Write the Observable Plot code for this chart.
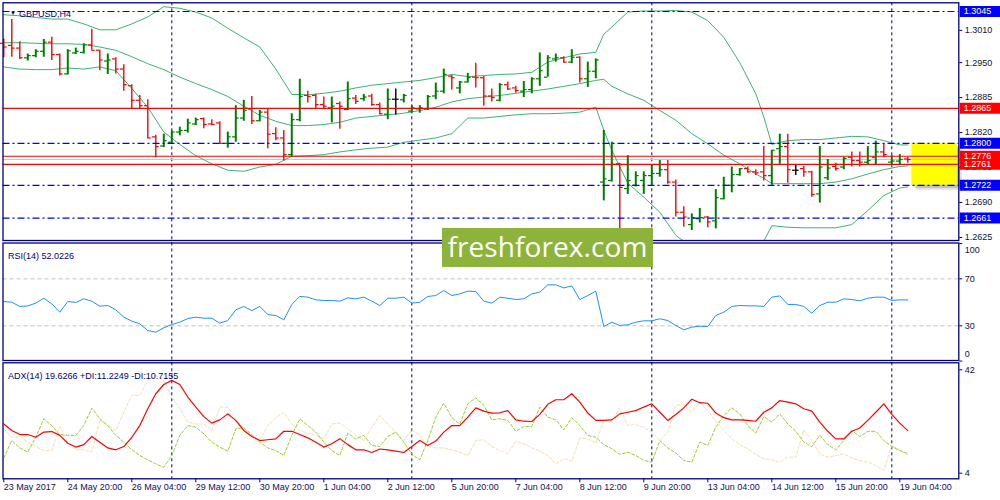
<!DOCTYPE html>
<html>
<head>
<meta charset="utf-8">
<script src="https://cdn.jsdelivr.net/npm/d3@7"></script>
<script src="https://cdn.jsdelivr.net/npm/@observablehq/plot@0.6"></script>
<style>
  html, body { margin: 0; padding: 0; background: #fff; }
  #chart { position: relative; width: 1000px; height: 500px; overflow: hidden; }
  #chart svg { position: absolute; left: 0; top: 0; }
  #wm {
    position: absolute; left: 442px; top: 228px; width: 211px; height: 39px;
    background: #8db33b; color: #fff; font: 28px "Open Sans", sans-serif;
    line-height: 37px; text-align: center; letter-spacing: 0.1px;
  }
</style>
</head>
<body>
<div id="chart"><div id="wm">freshforex.com</div></div>
<script>
// GBPUSD H4, bars 0..113 (23 May 2017 -> 19 Jun 2017)
const open = [
  1.2986,1.2982,1.2977,1.2959,1.2963,1.2971,1.2988,1.2965,1.2929,1.2968,
  1.2969,1.2983,1.2973,1.2953,1.2957,1.2938,1.2907,1.2880,1.2870,1.2812,
  1.2795,1.2802,1.2821,1.2824,1.2836,1.2846,1.2836,1.2838,1.2800,1.2812,
  1.2847,1.2864,1.2842,1.2858,1.2818,1.2810,1.2779,1.2844,1.2889,1.2889,
  1.2872,1.2866,1.2874,1.2863,1.2884,1.2883,1.2888,1.2872,1.2854,1.2882,
  1.2881,1.2860,1.2864,1.2864,1.2888,1.2897,1.2925,1.2903,1.2914,1.2923,
  1.2922,1.2888,1.2880,1.2909,1.2903,1.2897,1.2900,1.2920,1.2923,1.2957,
  1.2959,1.2951,1.2960,1.2920,1.2934,1.2728,1.2731,1.2762,1.2716,1.2722,
  1.2731,1.2740,1.2744,1.2751,1.2728,1.2672,1.2649,1.2660,1.2663,1.2656,
  1.2697,1.2722,1.2742,1.2753,1.2747,1.2747,1.2740,1.2790,1.2794,1.2750,
  1.2753,1.2747,1.2706,1.2736,1.2757,1.2756,1.2774,1.2768,1.2765,1.2774,
  1.2784,1.2765,1.2767,1.2771]
const high = [
  1.2994,1.3030,1.2989,1.2966,1.2974,1.2993,1.2997,1.2966,1.2974,1.2977,
  1.2985,1.3012,1.2973,1.2966,1.2959,1.2946,1.2909,1.2889,1.2881,1.2815,
  1.2817,1.2823,1.2830,1.2845,1.2847,1.2847,1.2844,1.2840,1.2821,1.2870,
  1.2880,1.2887,1.2861,1.2864,1.2829,1.2824,1.2855,1.2919,1.2897,1.2891,
  1.2886,1.2886,1.2877,1.2914,1.2889,1.2891,1.2891,1.2875,1.2901,1.2901,
  1.2891,1.2870,1.2870,1.2889,1.2912,1.2938,1.2926,1.2915,1.2930,1.2949,
  1.2924,1.2901,1.2911,1.2914,1.2906,1.2915,1.2922,1.2968,1.2963,1.2966,
  1.2961,1.2974,1.2961,1.2951,1.2957,1.2824,1.2802,1.2763,1.2777,1.2747,
  1.2747,1.2759,1.2768,1.2768,1.2732,1.2682,1.2669,1.2679,1.2664,1.2714,
  1.2737,1.2756,1.2753,1.2756,1.2751,1.2794,1.2787,1.2817,1.2817,1.2759,
  1.2757,1.2748,1.2794,1.2770,1.2763,1.2774,1.2784,1.2784,1.2794,1.2804,
  1.2799,1.2777,1.2779,1.2774]
const low = [
  1.2959,1.2960,1.2956,1.2953,1.2959,1.2960,1.2954,1.2925,1.2927,1.2965,
  1.2966,1.2973,1.2935,1.2928,1.2929,1.2897,1.2864,1.2864,1.2809,1.2773,
  1.2792,1.2800,1.2814,1.2819,1.2833,1.2827,1.2833,1.2799,1.2791,1.2802,
  1.2841,1.2835,1.2840,1.2790,1.2805,1.2767,1.2775,1.2840,1.2875,1.2864,
  1.2864,1.2838,1.2826,1.2861,1.2872,1.2878,1.2869,1.2853,1.2844,1.2852,
  1.2875,1.2856,1.2856,1.2861,1.2881,1.2892,1.2899,1.2892,1.2912,1.2903,
  1.2869,1.2877,1.2877,1.2898,1.2893,1.2885,1.2892,1.2906,1.2923,1.2951,
  1.2949,1.2948,1.2912,1.2904,1.2920,1.2693,1.2728,1.2638,1.2705,1.2719,
  1.2705,1.2720,1.2737,1.2724,1.2663,1.2644,1.2638,1.2652,1.2643,1.2641,
  1.2695,1.2708,1.2739,1.2744,1.2740,1.2730,1.2722,1.2761,1.2726,1.2740,
  1.2737,1.2700,1.2689,1.2731,1.2748,1.2751,1.2756,1.2756,1.2759,1.2759,
  1.2773,1.2759,1.2759,1.2763]
const close = [
  1.2979,1.2977,1.2959,1.2963,1.2971,1.2988,1.2965,1.2929,1.2972,1.2971,
  1.2983,1.2973,1.2955,1.2955,1.2938,1.2909,1.2880,1.2870,1.2810,1.2794,
  1.2805,1.2821,1.2824,1.2838,1.2844,1.2835,1.2835,1.2800,1.2812,1.2847,
  1.2861,1.2842,1.2858,1.2817,1.2810,1.2779,1.2844,1.2887,1.2887,1.2872,
  1.2869,1.2869,1.2869,1.2883,1.2878,1.2886,1.2872,1.2855,1.2882,1.2882,
  1.2889,1.2866,1.2866,1.2887,1.2897,1.2928,1.2922,1.2914,1.2922,1.2922,
  1.2888,1.2885,1.2909,1.2901,1.2898,1.2900,1.2920,1.2935,1.2959,1.2959,
  1.2951,1.2960,1.2920,1.2934,1.2955,1.2734,1.2761,1.2718,1.2731,1.2740,
  1.2740,1.2744,1.2751,1.2728,1.2672,1.2663,1.2662,1.2662,1.2654,1.2699,
  1.2722,1.2742,1.2753,1.2747,1.2745,1.2740,1.2787,1.2794,1.2751,1.2750,
  1.2747,1.2705,1.2756,1.2754,1.2753,1.2772,1.2768,1.2765,1.2768,1.2784,
  1.2779,1.2767,1.2770,1.2770]

const bbBars = [0,2,4,6,8,10,12,14,16,18,20,22,24,26,28,30,32,34,36,38,
  40,42,44,46,48,50,52,54,56,58,60,62,64,66,68,70,72,74,75,
  76,78,80,82,84,86,88,90,92,94,95,96,98,100,102,104,106,108,110,112,113]
const bbUpper = [1.3039,1.3037,1.3034,1.3031,1.3031,1.3022,1.3011,1.3011,1.3022,1.3035,
  1.3054,1.3051,1.3044,1.3033,1.3014,1.2996,1.2979,1.2938,1.2891,1.2890,
  1.2893,1.2897,1.2903,1.2908,1.2911,1.2914,1.2917,1.2922,1.2928,1.2924,
  1.2926,1.2928,1.2929,1.2932,1.2951,1.2959,1.2966,1.2969,1.3003,
  1.3016,1.3044,1.3046,1.3046,1.3047,1.3044,1.3028,1.2997,1.2950,1.2892,1.2849,
  1.2798,1.2805,1.2807,1.2807,1.2810,1.2813,1.2812,1.2805,1.2797,1.2797]
const bbMiddle = [1.2987,1.2987,1.2986,1.2985,1.2985,1.2984,1.2979,1.2973,1.2961,1.2948,
  1.2937,1.2923,1.2911,1.2900,1.2887,1.2869,1.2852,1.2841,1.2833,1.2833,
  1.2835,1.2839,1.2847,1.2850,1.2853,1.2856,1.2861,1.2867,1.2877,1.2883,
  1.2886,1.2889,1.2893,1.2897,1.2901,1.2906,1.2911,1.2917,1.2919,
  1.2906,1.2892,1.2880,1.2861,1.2843,1.2818,1.2799,1.2778,1.2762,1.2743,1.2735,
  1.2725,1.2725,1.2725,1.2725,1.2728,1.2734,1.2743,1.2751,1.2757,1.2758]
const bbLower = [1.2942,1.2938,1.2937,1.2937,1.2940,1.2938,1.2942,1.2935,1.2902,1.2867,
  1.2821,1.2798,1.2777,1.2762,1.2750,1.2748,1.2756,1.2761,1.2776,1.2777,
  1.2779,1.2784,1.2788,1.2791,1.2793,1.2802,1.2806,1.2810,1.2818,1.2847,
  1.2847,1.2850,1.2853,1.2855,1.2855,1.2856,1.2858,1.2867,1.2824,
  1.2787,1.2726,1.2700,1.2672,1.2629,1.2607,1.2589,1.2579,1.2583,1.2595,1.2618,
  1.2647,1.2644,1.2643,1.2643,1.2643,1.2649,1.2675,1.2703,1.2717,1.2719]

const rsi = [
  50.7,50.1,46.5,47.0,49.3,53.5,48.7,41.6,50.7,49.9,
  53.0,51.0,46.7,47.3,43.6,37.4,34.0,31.7,26.0,24.6,
  28.3,31.1,33.1,36.2,37.4,36.5,36.5,32.3,34.5,43.6,
  46.5,43.0,46.5,39.6,38.8,35.1,48.2,55.0,54.4,52.1,
  51.6,51.6,51.0,53.8,53.0,54.4,51.0,47.3,53.5,53.5,
  54.4,49.3,50.1,55.0,55.8,60.1,55.8,57.2,59.5,59.2,
  51.0,49.3,54.4,53.5,52.4,53.0,57.2,58.7,64.9,64.9,
  62.3,64.0,52.4,55.8,59.5,29.4,33.1,30.3,30.9,33.1,
  34.3,34.3,36.0,34.5,30.3,26.6,28.9,29.7,29.4,38.8,
  41.6,46.5,47.3,47.0,47.0,46.5,54.4,55.5,48.2,48.2,
  46.5,40.8,47.3,50.1,50.1,53.0,52.4,51.3,53.5,54.4,
  54.4,51.6,52.1,52.02]
const adx = [
  22.1,19.7,18.2,18.2,17.2,19.1,19.3,17.9,15.0,13.6,
  14.5,17.5,15.4,13.3,12.6,13.8,17.2,21.5,27.7,33.2,
  36.6,38.1,36.6,32.0,28.3,24.8,22.4,23.6,25.8,23.4,
  19.7,17.5,16.0,16.3,16.6,19.4,19.4,18.2,17.0,15.4,
  13.6,14.8,16.7,14.5,12.6,12.6,11.6,12.9,12.6,12.1,
  11.6,13.8,16.0,14.2,15.8,19.1,21.5,21.5,24.6,28.0,
  26.8,26.1,26.2,27.0,23.6,23.1,23.0,25.6,29.3,31.0,
  31.0,33.2,30.1,26.1,23.4,23.4,23.6,25.8,26.4,27.0,
  28.3,29.5,26.4,23.4,25.6,28.0,31.2,29.9,29.7,26.1,
  24.4,23.6,23.6,23.4,23.1,26.4,28.0,30.7,30.1,29.5,
  27.7,26.8,22.8,19.4,16.6,16.6,19.4,20.6,23.4,26.4,
  29.5,25.6,22.4,19.63]
const plusDI = [
  9.6,16.0,13.3,11.7,17.2,24.0,21.5,18.2,17.9,17.9,
  21.5,27.9,24.0,21.5,17.9,15.4,12.6,10.5,8.9,7.4,
  6.2,10.5,17.9,21.5,20.9,18.5,15.4,13.6,12.1,20.3,
  20.7,18.2,15.4,13.3,12.3,10.5,17.9,24.0,21.5,19.1,
  15.4,12.3,10.5,18.7,16.6,17.9,14.2,13.8,17.5,19.1,
  15.4,10.9,8.9,16.0,24.6,29.7,24.4,22.1,29.5,31.7,
  28.9,23.6,24.0,23.4,19.4,21.2,21.2,28.3,24.6,23.6,
  19.9,24.4,21.5,17.9,17.2,14.5,13.0,10.9,11.7,10.5,
  8.7,8.0,16.0,13.3,11.4,8.7,8.0,15.4,14.2,20.9,
  25.2,28.0,25.8,21.5,18.7,24.8,22.8,25.8,22.1,19.4,
  15.4,13.8,17.9,14.5,12.6,16.0,19.7,17.5,19.4,19.4,
  16.0,13.8,12.3,11.22]
const minusDI = [
  20.3,17.2,17.5,15.4,13.8,12.3,12.3,21.2,15.4,12.6,
  12.6,11.7,23.4,21.5,19.7,26.4,32.6,32.6,38.1,39.9,
  38.1,32.0,27.7,22.8,22.1,22.1,19.7,28.3,28.3,24.0,
  20.3,17.9,16.0,21.5,24.4,26.4,22.1,19.7,18.7,17.9,
  16.6,22.1,22.4,20.3,17.9,16.0,20.9,25.2,22.1,19.1,
  16.0,19.9,17.9,13.8,13.3,13.3,12.6,11.7,10.5,16.0,
  16.3,13.8,12.3,11.1,15.8,14.8,13.3,12.1,10.5,7.4,
  9.3,8.4,17.0,16.6,15.0,23.4,23.1,28.0,21.5,21.9,
  20.9,19.1,16.0,19.1,28.9,29.3,26.4,30.1,27.0,23.1,
  19.7,16.6,14.5,13.0,10.9,9.3,8.9,8.0,9.9,9.9,
  19.9,16.0,11.1,9.9,10.5,11.1,9.6,8.7,8.0,6.8,
  5.0,14.2,12.6,10.72]

const timeBars = [0,8,16,24,32,40,48,56,64,72,80,88,96,104,112]
const timeLabels = ["23 May 2017","24 May 20:00","26 May 04:00","29 May 12:00","30 May 20:00",
  "1 Jun 04:00","2 Jun 12:00","5 Jun 20:00","7 Jun 04:00","8 Jun 12:00","9 Jun 20:00",
  "13 Jun 04:00","14 Jun 12:00","15 Jun 20:00","19 Jun 04:00"]
const separatorBars = [21, 51, 81, 111]
const priceTicks = [1.3010, 1.2950, 1.2885, 1.2820, 1.2755, 1.2690, 1.2625]
const blueLevels = [1.3045, 1.2800, 1.2722, 1.2661]
const redLevels = [1.2865, 1.2776, 1.2761]
const bidPrice = 1.2770
const zone = {bar1: 113.5, bar2: 119.2, low: 1.2722, high: 1.2800}
const rsiLevels = [70, 30]
const rsiTicks = [100, 70, 30, 0]
const adxTicks = [42, 4]

// tables
const bars = open.map((o, i) => ({i, open: o, high: high[i], low: low[i], close: close[i],
  col: close[i] > o ? "#008000" : close[i] < o ? "#ff0000" : "#000000"}))
const bb = bbBars.map((b, k) => ({i: b, up: bbUpper[k], mid: bbMiddle[k], lo: bbLower[k]}))
const ind = rsi.map((r, i) => ({i, rsi: r, adx: adx[i], pdi: plusDI[i], mdi: minusDI[i]}))
const tags = [
  ...blueLevels.map(p => ({p, c: "#0000ff"})),
  ...redLevels.map(p => ({p, c: "#ff0000"}))
].sort((a, b) => b.p - a.p)

const navy = "#000080"
const W = 1000, H = 500
const xOpt = {domain: [-0.1, 119.375], axis: null}
const base = {
  width: W, height: H, marginLeft: 2.5, marginRight: 41.7,
  x: xOpt, color: {type: "identity"},
  style: {background: "transparent", overflow: "visible",
    fontFamily: "'Liberation Sans', Arial, sans-serif", fontSize: "9px", color: navy}
}
const sepRule = (ext) => Plot.ruleX(separatorBars, {stroke: navy, strokeDasharray: "3,3", strokeWidth: 1, ...ext})
const fontT = {fontFamily: "'Liberation Sans', Arial, sans-serif", fontSize: 9}
const axisText = "#111133"

// main price panel
const main = Plot.plot({
  ...base, marginTop: 2.3, marginBottom: 260,
  y: {domain: [1.26194, 1.30612], axis: null},
  marks: [
    Plot.rect([zone], {x1: "bar1", x2: "bar2", y1: "low", y2: "high", fill: "#000", fillOpacity: 0.12, dx: 5, dy: 5}),
    Plot.rect([zone], {x1: "bar1", x2: "bar2", y1: "low", y2: "high", fill: "#000", fillOpacity: 0.15, dx: 3, dy: 3}),
    Plot.rect([zone], {x1: "bar1", x2: "bar2", y1: "low", y2: "high", fill: "#ffff00"}),
    sepRule({insetBottom: -3}),
    Plot.ruleY([bidPrice], {stroke: "#c8c8c8", strokeWidth: 1}),
    Plot.line(bb, {x: "i", y: "up", stroke: "#3cb371", strokeWidth: 1, clip: true}),
    Plot.line(bb, {x: "i", y: "mid", stroke: "#3cb371", strokeWidth: 1, clip: true}),
    Plot.line(bb, {x: "i", y: "lo", stroke: "#3cb371", strokeWidth: 1, clip: true}),
    Plot.ruleX(bars, {x: "i", y1: "low", y2: "high", stroke: "col", strokeWidth: d => d.col === "#008000" ? 2 : 1.4}),
    Plot.ruleY(bars, {y: "open", x1: d => d.i - 0.42, x2: "i", stroke: "col", strokeWidth: 1.2}),
    Plot.ruleY(bars, {y: "close", x1: "i", x2: d => d.i + 0.42, stroke: "col", strokeWidth: 1.2}),
    Plot.ruleY(blueLevels, {stroke: "#0000ff", strokeWidth: 1.2, strokeDasharray: "7,3,2,3"}),
    Plot.ruleY(redLevels, {stroke: "#ff0000", strokeWidth: 1.2}),
    Plot.frame({stroke: navy, strokeWidth: 1.3}),
    Plot.axisY(priceTicks, {anchor: "right", label: null, tickSize: 3, tickPadding: 3,
      tickFormat: d => d.toFixed(4), stroke: navy, fill: axisText, ...fontT}),
    Plot.ruleY(tags, {y: "p", x1: 119.55, x2: 125, stroke: "c", strokeWidth: 11}),
    Plot.text(tags, {y: "p", text: d => d.p.toFixed(4), frameAnchor: "right", dx: 5, textAnchor: "start",
      fill: "#ffffff", ...fontT}),
    Plot.text(["\u25BC"], {frameAnchor: "top-left", dx: 7, dy: 8, textAnchor: "start", fill: "#000044", fontSize: 6}),
    Plot.text(["GBPUSD,H4"], {frameAnchor: "top-left", dx: 16, dy: 8, textAnchor: "start", fill: navy, ...fontT})
  ]
})

// RSI panel
const rsiPlot = Plot.plot({
  ...base, marginTop: 242.5, marginBottom: 140,
  y: {domain: [0.5, 100.5], axis: null},
  marks: [
    sepRule({insetBottom: -3}),
    Plot.ruleY(rsiLevels, {stroke: "#c0c0c0", strokeDasharray: "4,3", strokeWidth: 1}),
    Plot.line(ind, {x: "i", y: "rsi", stroke: "#1e90ff", strokeWidth: 1}),
    Plot.frame({stroke: navy, strokeWidth: 1.3}),
    Plot.axisY(rsiTicks, {anchor: "right", label: null, tickSize: 3, tickFormat: () => "", stroke: navy}),
    Plot.text(rsiLevels, {y: d => d, text: d => String(d), frameAnchor: "right", dx: 6, textAnchor: "start", fill: axisText, ...fontT}),
    Plot.text([100], {y: d => d, text: d => String(d), frameAnchor: "right", dx: 6, dy: 6.5, textAnchor: "start", fill: axisText, ...fontT}),
    Plot.text([0], {y: d => d, text: d => String(d), frameAnchor: "right", dx: 6, dy: -7, textAnchor: "start", fill: axisText, ...fontT}),
    Plot.text(["RSI(14) 52.0226"], {frameAnchor: "top-left", dx: 5, dy: 9.5, textAnchor: "start", fill: navy, ...fontT})
  ]
})

// ADX panel
const adxPlot = Plot.plot({
  ...base, marginTop: 362.3, marginBottom: 21.7,
  y: {domain: [1.94, 44.57], axis: null},
  marks: [
    sepRule({}),
    Plot.line(ind, {x: "i", y: "mdi", stroke: "#f5deb3", strokeWidth: 1, strokeDasharray: "3,2"}),
    Plot.line(ind, {x: "i", y: "pdi", stroke: "#9acd32", strokeWidth: 1, strokeDasharray: "3,2"}),
    Plot.line(ind, {x: "i", y: "adx", stroke: "#ff0000", strokeWidth: 1.2}),
    Plot.frame({stroke: navy, strokeWidth: 1.3}),
    Plot.axisY(adxTicks, {anchor: "right", label: null, tickSize: 3, tickPadding: 3, stroke: navy, fill: axisText, ...fontT}),
    Plot.axisX(timeBars, {anchor: "bottom", label: null, tickSize: 4, tickPadding: 1,
      tickFormat: d => timeLabels[timeBars.indexOf(d)], textAnchor: "start",
      stroke: navy, fill: "#10105a", ...fontT}),
    Plot.text(["ADX(14) 19.6266 +DI:11.2249 -DI:10.7155"], {frameAnchor: "top-left", dx: 5, dy: 10, textAnchor: "start", fill: navy, ...fontT})
  ]
})

const chart = document.getElementById("chart")
const wm = document.getElementById("wm")
chart.insertBefore(main, wm)
chart.insertBefore(rsiPlot, wm)
chart.insertBefore(adxPlot, wm)
</script>
</body>
</html>
